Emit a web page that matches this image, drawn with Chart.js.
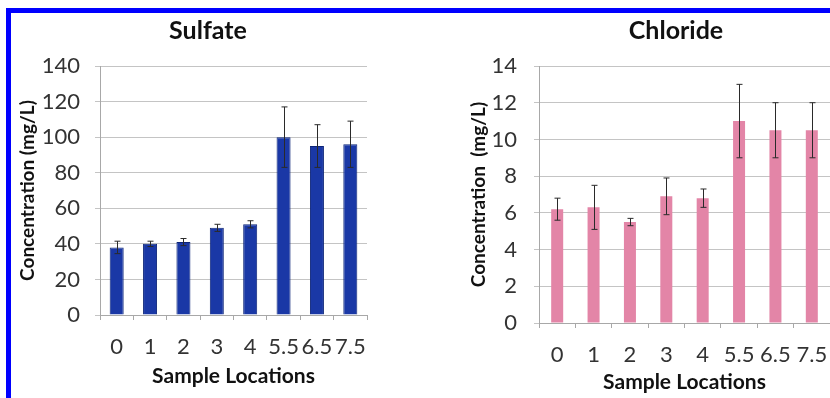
<!DOCTYPE html>
<html>
<head>
<meta charset="utf-8">
<script src="https://cdn.jsdelivr.net/npm/chart.js@4.4.1/dist/chart.umd.min.js"></script>
<style>
    html, body { margin: 0; padding: 0; background: #fff; overflow: hidden; }
    #page { position: relative; width: 830px; height: 398px; overflow: hidden; }
    #frame {
        position: absolute; left: 6px; top: 8px; right: 0; height: 388px;
        border-top: 5px solid #0000ff; border-left: 5px solid #0000ff;
        border-bottom: 1px solid #c8c8ff;
    }
    .box { position: absolute; }
    #sulfateBox { left: 12px; top: 14px; width: 392px; height: 382px; }
    #chlorideBox { left: 460px; top: 14px; width: 432px; height: 382px; }
</style>
</head>
<body>
<div id="page">
    <div id="frame"></div>
    <div class="box" id="sulfateBox"><canvas id="sulfateChart"></canvas></div>
    <div class="box" id="chlorideBox"><canvas id="chlorideChart"></canvas></div>
</div>
<script>
// Sample locations and concentrations
const locations = ['0', '1', '2', '3', '4', '5.5', '6.5', '7.5'];

const sulfateValues = [38, 40, 41, 49, 51, 100, 95, 96];
const sulfateErrors = [3.5, 1.5, 2, 2, 2, 17, 12, 13];
const sulfateTicks = [0, 20, 40, 60, 80, 100, 120, 140];

const chlorideValues = [6.2, 6.3, 5.5, 6.9, 6.8, 11, 10.5, 10.5];
const chlorideErrors = [0.6, 1.2, 0.2, 1.0, 0.5, 2, 1.5, 1.5];
const chlorideTicks = [0, 2, 4, 6, 8, 10, 12, 14];

Chart.defaults.font.family = 'Lato, "Open Sans", sans-serif';
Chart.defaults.color = '#333';

// error bars drawn with the chart's own y scale
const errorBarPlugin = {
    id: 'errorBars',
    afterDatasetsDraw(chart) {
        const errors = chart.options.plugins.errorBars.errors;
        const values = chart.data.datasets[0].data;
        const meta = chart.getDatasetMeta(0);
        const y = chart.scales.y;
        const ctx = chart.ctx;
        ctx.save();
        ctx.strokeStyle = '#2a2a2a';
        ctx.lineWidth = 1;
        meta.data.forEach((bar, i) => {
            const x = Math.round(bar.x) + 0.5;
            const top = y.getPixelForValue(values[i] + errors[i]);
            const bottom = y.getPixelForValue(values[i] - errors[i]);
            ctx.beginPath();
            ctx.moveTo(x, top);
            ctx.lineTo(x, bottom);
            ctx.moveTo(x - 3, top);
            ctx.lineTo(x + 3, top);
            ctx.moveTo(x - 3, bottom);
            ctx.lineTo(x + 3, bottom);
            ctx.stroke();
        });
        ctx.restore();
    }
};

function makeChart(canvasId, opts) {
    return new Chart(document.getElementById(canvasId), {
        type: 'bar',
        data: {
            labels: locations,
            datasets: [{
                data: opts.values,
                backgroundColor: opts.color,
                borderColor: opts.edge,
                borderWidth: opts.edgeWidth,
                barPercentage: opts.barPct,
                categoryPercentage: 1
            }]
        },
        options: {
            responsive: true,
            maintainAspectRatio: false,
            animation: false,
            plugins: {
                legend: { display: false },
                tooltip: { enabled: false },
                title: {
                    display: true,
                    text: opts.title,
                    color: '#111',
                    font: { size: 25, weight: 'bold' },
                    padding: { top: 2, bottom: 20 }
                },
                errorBars: { errors: opts.errors }
            },
            scales: {
                x: {
                    grid: { drawOnChartArea: false, drawTicks: true, tickLength: 5, color: '#a8a8a8' },
                    border: { color: '#a8a8a8' },
                    ticks: { font: { size: 22 }, padding: opts.xPad, maxRotation: 0, autoSkip: false },
                    title: {
                        display: true,
                        text: 'Sample Locations',
                        color: '#111',
                        font: { size: 21, weight: 'bold' },
                        padding: { top: 0, bottom: opts.xTitlePad }
                    },
                    afterFit: s => { s.height = opts.xHeight; }
                },
                y: {
                    min: 0,
                    max: opts.ticks[opts.ticks.length - 1],
                    grid: { color: '#c4c4c4', tickLength: 5 },
                    border: { color: '#a8a8a8' },
                    afterBuildTicks: s => { s.ticks = opts.ticks.map(v => ({ value: v })); },
                    ticks: { font: { size: 22 }, padding: opts.yPad },
                    title: {
                        display: true,
                        text: opts.yTitle,
                        color: '#111',
                        font: { size: 19, weight: 'bold' },
                        padding: { top: opts.yTitlePad, bottom: 0 }
                    },
                    afterFit: s => { s.width = opts.yWidth; }
                },
                // empty right-hand axis: keeps space on the right without moving the title
                gap: {
                    type: 'linear',
                    position: 'right',
                    grid: { display: false },
                    ticks: { display: false },
                    border: { display: false },
                    afterFit: s => { s.width = opts.padRight; }
                }
            }
        },
        plugins: [errorBarPlugin]
    });
}

makeChart('sulfateChart', {
    title: 'Sulfate',
    yTitle: 'Concentration (mg/L)',
    values: sulfateValues,
    errors: sulfateErrors,
    ticks: sulfateTicks,
    color: '#1a38a6',
    edge: '#0c2478',
    edgeWidth: 1,
    barPct: 0.42,
    padRight: 37,
    xHeight: 81,
    xPad: 13.8,
    xTitlePad: 7.4,
    yWidth: 88,
    yPad: 15,
    yTitlePad: 4.5
});

makeChart('chlorideChart', {
    title: 'Chloride',
    yTitle: 'Concentration  (mg/L)',
    values: chlorideValues,
    errors: chlorideErrors,
    ticks: chlorideTicks,
    color: '#e385a7',
    edge: '#e385a7',
    edgeWidth: 0,
    barPct: 0.33,
    padRight: 62,
    xHeight: 73,
    xPad: 13.3,
    xTitlePad: 1,
    yWidth: 79,
    yPad: 17,
    yTitlePad: 7.5
});
</script>
</body>
</html>
